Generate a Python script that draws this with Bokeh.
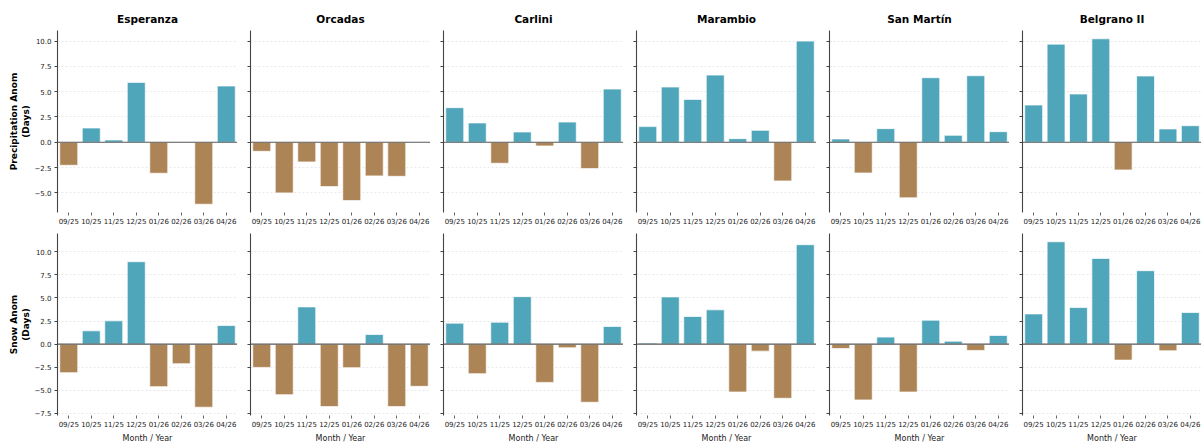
from bokeh.plotting import figure
from bokeh.layouts import column, row
from bokeh.models import (FactorRange, Range1d, Span, SingleIntervalTicker,
                          CustomJSTickFormatter, ColumnDataSource)
from bokeh.embed import file_html
from bokeh.resources import INLINE

# ---- data: monthly anomalies (days) per station ----
months = ["09/25", "10/25", "11/25", "12/25", "01/26", "02/26", "03/26", "04/26"]
stations = ["Esperanza", "Orcadas", "Carlini", "Marambio", "San Martín", "Belgrano II"]

precip_esperanza = [-2.27, 1.41, 0.23, 5.92, -3.06, -0.05, -6.12, 5.56]
precip_orcadas = [-0.89, -5.00, -1.94, -4.38, -5.76, -3.32, -3.36, 0.0]
precip_carlini = [3.42, 1.91, -2.07, 1.02, -0.36, 2.00, -2.60, 5.26]
precip_marambio = [1.55, 5.46, 4.24, 6.64, 0.36, 1.18, -3.82, 10.00]
precip_san_martin = [0.33, -3.03, 1.35, -5.49, 6.38, 0.69, 6.58, 1.05]
precip_belgrano = [3.68, 9.70, 4.77, 10.23, -2.73, 6.55, 1.32, 1.64]

snow_esperanza = [-3.09, 1.44, 2.52, 8.92, -4.60, -2.12, -6.83, 2.01]
snow_orcadas = [-2.52, -5.47, 4.03, -6.76, -2.55, 1.04, -6.76, -4.57]
snow_carlini = [2.27, -3.20, 2.37, 5.14, -4.14, -0.40, -6.29, 1.91]
snow_marambio = [0.11, 5.11, 2.99, 3.71, -5.18, -0.76, -5.86, 10.76]
snow_san_martin = [-0.47, -6.04, 0.76, -5.18, 2.59, 0.32, -0.68, 0.94]
snow_belgrano = [3.27, 11.08, 3.96, 9.28, -1.73, 7.95, -0.72, 3.42]

precip = [precip_esperanza, precip_orcadas, precip_carlini,
          precip_marambio, precip_san_martin, precip_belgrano]
snow = [snow_esperanza, snow_orcadas, snow_carlini,
        snow_marambio, snow_san_martin, snow_belgrano]

rows_spec = [
    ("Precipitation Anom\n(Days)", precip),
    ("Snow Anom\n(Days)", snow),
]

POS_COLOR = "#4fa5ba"
NEG_COLOR = "#ad8455"
FONT = "DejaVu Sans"

minus_fmt = CustomJSTickFormatter(code="return tick.toFixed(1).replace('-', '\u2212');")
blank_fmt = CustomJSTickFormatter(code="return '';")


def padded_range(series_list):
    lo = min(min(s) for s in series_list)
    hi = max(max(s) for s in series_list)
    lo = min(lo, 0.0)
    hi = max(hi, 0.0)
    pad = 0.05 * (hi - lo)
    return lo - pad, hi + pad


layout_rows = []
for r, (ylabel, series_list) in enumerate(rows_spec):
    y0, y1 = padded_range(series_list)
    top_row = r == 0
    bottom_row = r == len(rows_spec) - 1
    figs = []
    for c, (name, vals) in enumerate(zip(stations, series_list)):
        first = c == 0
        last = c == len(stations) - 1
        p = figure(
            x_range=FactorRange(*months, range_padding=0),
            y_range=Range1d(y0, y1),
            frame_width=179 if last else 180,
            frame_height=182,
            min_border_left=57 if first else 13,
            min_border_right=0,
            min_border_top=30 if top_row else 0,
            min_border_bottom=28 if bottom_row else 21,
            output_backend="svg",
            toolbar_location=None,
            title=name if top_row else None,
        )
        p.outline_line_color = None
        p.background_fill_color = "white"
        p.border_fill_color = "white"

        if top_row:
            p.title.align = "center"
            p.title.text_font = FONT
            p.title.text_font_size = "10.5px"
            p.title.text_font_style = "bold"
            p.title.text_color = "#000000"
            p.title.standoff = 11

        colors = [POS_COLOR if v >= 0 else NEG_COLOR for v in vals]
        src = ColumnDataSource(dict(month=months, value=vals, color=colors))
        p.vbar(x="month", top="value", bottom=0, width=0.8, source=src,
               fill_color="color", line_color="white", line_alpha=0.7,
               line_width=1)

        p.add_layout(Span(location=0, dimension="width",
                          line_color="#5a5a5a", line_width=1.1))

        # grid
        p.xgrid.grid_line_color = None
        p.ygrid.grid_line_color = "#e2e2e2"
        p.ygrid.grid_line_dash = "2 2"
        p.ygrid.grid_line_width = 0.8

        # x axis
        xa = p.xaxis[0]
        xa.axis_line_color = None
        xa.major_tick_line_color = "#666666"
        xa.major_tick_out = 3
        xa.major_tick_in = 0
        xa.minor_tick_line_color = None
        xa.major_label_text_font = FONT
        xa.major_label_text_font_size = "7px"
        xa.major_label_text_color = "#222222"
        xa.major_label_standoff = 2
        xa.group_text_font_size = "0px"
        if bottom_row:
            xa.axis_label = "Month / Year"
            xa.axis_label_text_font = FONT
            xa.axis_label_text_font_size = "8px"
            xa.axis_label_text_font_style = "normal"
            xa.axis_label_text_color = "#222222"
            xa.axis_label_standoff = 2

        # y axis
        ya = p.yaxis[0]
        ya.ticker = SingleIntervalTicker(interval=2.5, num_minor_ticks=0)
        p.ygrid.ticker = ya.ticker
        ya.axis_line_color = "#444444"
        ya.axis_line_width = 1.1
        ya.major_tick_line_color = "#444444"
        ya.major_tick_out = 3
        ya.major_tick_in = 0
        ya.minor_tick_line_color = None
        if first:
            ya.formatter = minus_fmt
            ya.major_label_text_font = FONT
            ya.major_label_text_font_size = "7px"
            ya.major_label_text_color = "#222222"
            ya.major_label_standoff = 3
            ya.axis_label = ylabel
            ya.axis_label_text_font = FONT
            ya.axis_label_text_font_size = "9px"
            ya.axis_label_text_font_style = "bold"
            ya.axis_label_text_color = "#000000"
            ya.axis_label_standoff = 1
        else:
            ya.formatter = blank_fmt
            ya.major_label_standoff = 0
            ya.major_label_text_font_size = "0px"

        figs.append(p)
    layout_rows.append(row(*figs))

layout = column(*layout_rows)

with open("out.html", "w") as f:
    f.write(file_html(layout, INLINE))
